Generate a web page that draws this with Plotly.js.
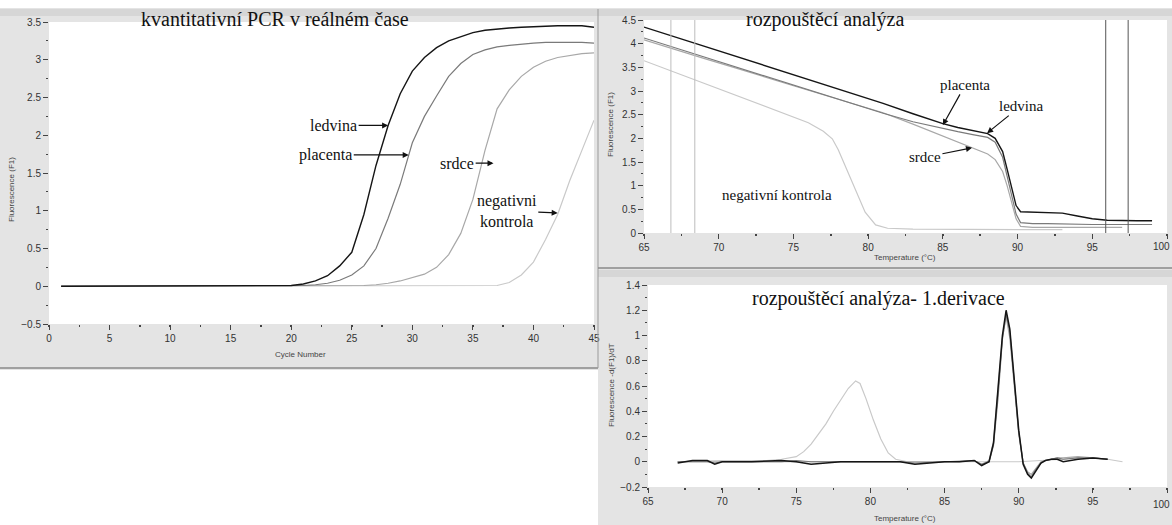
<!DOCTYPE html>
<html>
<head>
<meta charset="utf-8">
<script src="https://cdn.plot.ly/plotly-3.0.1.min.js"></script>
<style>html,body{margin:0;padding:0;background:#fff;}#chart{width:1172px;height:525px;}</style>
</head>
<body>
<div id="chart"></div>
<script>
// ---------- Panel 1: real-time PCR (fluorescence vs cycle) ----------
const cycles = [1,2,3,4,5,6,7,8,9,10,11,12,13,14,15,16,17,18,19,20,21,22,23,24,25,26,27,28,29,30,31,32,33,34,35,36,37,38,39,40,41,42,43,44,45];
const pcrLedvina  = [0,0,0,0,0,0,0,0,0,0,0,0,0,0,0,0,0,0,0,0.01,0.03,0.07,0.14,0.27,0.45,0.95,1.6,2.13,2.55,2.85,3.03,3.16,3.25,3.31,3.36,3.39,3.41,3.42,3.43,3.44,3.44,3.45,3.45,3.45,3.43];
const pcrPlacenta = [0,0,0,0,0,0,0,0,0,0,0,0,0,0,0,0,0,0,0,0,0.01,0.02,0.04,0.08,0.15,0.27,0.5,0.9,1.35,1.9,2.25,2.52,2.78,2.95,3.07,3.13,3.17,3.19,3.21,3.22,3.23,3.23,3.23,3.23,3.22];
const pcrSrdce    = [0,0,0,0,0,0,0,0,0,0,0,0,0,0,0,0,0,0,0,0,0,0,0,0,0,0.01,0.02,0.04,0.07,0.11,0.16,0.25,0.42,0.7,1.15,1.8,2.35,2.6,2.78,2.9,2.98,3.03,3.06,3.08,3.09];
const pcrNegativ  = [0,0,0,0,0,0,0,0,0,0,0,0,0,0,0,0,0,0,0,0,0,0,0,0,0,0,0,0,0,0,0,0,0,0,0,0,0.01,0.05,0.15,0.32,0.62,0.95,1.4,1.8,2.2];
const cycleTicks  = [0,5,10,15,20,25,30,35,40,45];

// ---------- Panel 2: melting curve ----------
const meltTemp       = [65,67,69,71,73,75,77,79,81,83,85,86,87,87.5,88,88.5,89,89.3,89.6,89.9,90.2,91,92,93,94,95,96,97,98,99];
const meltLedvina    = [4.35,4.15,3.94,3.74,3.54,3.34,3.14,2.94,2.74,2.52,2.31,2.23,2.16,2.13,2.10,2.00,1.72,1.35,0.95,0.58,0.45,0.44,0.43,0.42,0.36,0.30,0.27,0.26,0.26,0.26];
const meltPlacenta   = [4.12,3.92,3.72,3.52,3.32,3.12,2.93,2.73,2.53,2.35,2.20,2.14,2.08,2.05,2.02,1.92,1.60,1.20,0.80,0.40,0.22,0.20,0.20,0.19,0.19,0.18,0.18,0.18,0.18,0.18];
const meltSrdce      = [4.08,3.88,3.69,3.50,3.30,3.11,2.92,2.73,2.54,2.30,2.05,1.93,1.80,1.73,1.67,1.55,1.30,1.00,0.65,0.30,0.14,0.12,0.12,0.12,0.12,0.12,0.12,0.12,null,null];
const negMeltTemp    = [65,67,69,71,73,75,76,77,77.6,78,78.6,79.1,79.8,80.5,81.3,83,85,87,89,91,93];
const meltNegativ    = [3.64,3.40,3.16,2.93,2.69,2.45,2.33,2.15,1.99,1.76,1.32,0.95,0.44,0.17,0.10,0.08,0.08,0.08,0.08,0.07,0.07];
const cursorLight    = [66.8,68.4];
const cursorDark     = [95.9,97.4];
const tempTicks      = [65,70,75,80,85,90,95,100];
const tempTickText   = ['65','70','75','80','85','90','95',''];
const lastTempLabel  = '100';

// ---------- Panel 3: first derivative ----------
const derTemp      = [67,68,69,69.5,70,72,74,75,76,78,80,82,83,85,86,87,87.5,88,88.3,88.6,88.9,89.15,89.4,89.7,90,90.3,90.6,90.85,91.1,91.5,91.8,92.2,92.6,93,94,95,96];
const derLedvina   = [-0.01,0.01,0.01,-0.02,0,0,0.01,0,-0.02,0,0,0,-0.02,0,0,0.01,-0.03,0,0.15,0.55,1.0,1.2,1.05,0.65,0.25,-0.02,-0.1,-0.13,-0.08,-0.01,0.01,0.02,0.02,0,0.02,0.03,0.02];
const derPlacenta  = [0,0,0,-0.01,0,0,0,0.01,0,0,0,0,-0.01,0,0,0.01,-0.02,0,0.13,0.5,0.97,1.17,1.03,0.63,0.24,-0.01,-0.09,-0.12,-0.07,-0.01,0.01,0.02,0.03,0.02,0.03,0.03,0.02];
const derSrdce     = [0,0,0,0,0,0,0,0,0,0,0,0,0,0,0,0.01,-0.02,0.01,0.16,0.56,0.98,1.15,0.98,0.6,0.22,-0.01,-0.08,-0.1,-0.06,0,0.01,0.02,0.03,0.03,0.04,0.03,0.02];
const derNegTemp   = [67,70,73,74,75,75.5,76,76.5,77,77.5,78,78.5,79,79.3,79.7,80.2,80.7,81.2,81.7,82.5,85,88,90,93,94,95,96,97];
const derNegativ   = [0,0.01,0.01,0.02,0.04,0.08,0.14,0.22,0.3,0.4,0.49,0.58,0.64,0.62,0.5,0.33,0.18,0.07,0.02,0,0,0,0,0.02,0.03,0.03,0.02,0];

// ---------- colours ----------
const cLed = '#151515', cPla = '#7a7a7a', cSrd = '#a8a8a8', cNeg = '#c9c9c9';

const W = 1172, H = 525;
const px = v => v / W;
const py = v => 1 - v / H;

function line(x, y, color, xa, ya, w) {
  return {x: x, y: y, type: 'scatter', mode: 'lines', xaxis: xa, yaxis: ya,
          line: {color: color, width: w || 1.2}, hoverinfo: 'skip', connectgaps: false};
}

const traces = [
  line(cycles, pcrNegativ, cNeg, 'x', 'y'),
  line(cycles, pcrSrdce, cSrd, 'x', 'y'),
  line(cycles, pcrPlacenta, cPla, 'x', 'y'),
  line(cycles, pcrLedvina, cLed, 'x', 'y', 1.4),

  line(negMeltTemp, meltNegativ, cNeg, 'x2', 'y2'),
  line(meltTemp, meltSrdce, cSrd, 'x2', 'y2'),
  line(meltTemp, meltPlacenta, cPla, 'x2', 'y2'),
  line(meltTemp, meltLedvina, cLed, 'x2', 'y2', 1.4),

  line(derNegTemp, derNegativ, cNeg, 'x3', 'y3'),
  line(derTemp, derSrdce, cSrd, 'x3', 'y3'),
  line(derTemp, derPlacenta, cPla, 'x3', 'y3'),
  line(derTemp, derLedvina, cLed, 'x3', 'y3', 1.5)
];

const tickFont = {family: 'Liberation Sans Narrow, Arial Narrow, Liberation Sans, Arial', size: 10, color: '#333'};
function xax(domain, range, anchor, vals, text) {
  return {domain: domain, range: range, anchor: anchor, tickmode: 'array', tickvals: vals, ticktext: text,
          ticks: 'outside', ticklen: 5, tickwidth: 1, tickcolor: '#444',
          minor: {dtick: 2.5, tick0: 0, ticks: 'outside', ticklen: 2, tickwidth: 1.5, tickcolor: '#444'},
          showgrid: false, zeroline: false, showline: false, tickfont: tickFont, fixedrange: true};
}
function yax(domain, range, anchor, dtick, mdtick) {
  return {domain: domain, range: range, anchor: anchor, dtick: dtick, tick0: 0,
          ticks: 'outside', ticklen: 5, tickwidth: 1, tickcolor: '#444',
          minor: {dtick: mdtick, ticks: 'outside', ticklen: 2, tickwidth: 1, tickcolor: '#444'},
          showgrid: false, zeroline: false, showline: false, tickfont: tickFont, fixedrange: true};
}

const serif = 'Liberation Serif, Times New Roman, serif';
const lab = (text, x, y, xa, ya, size) => ({
  text: text, x: x, y: y, xref: xa, yref: ya, showarrow: false, xanchor: 'center', yanchor: 'middle',
  font: {family: serif, size: size, color: '#111'}});
const arr = (text, tipX, tipY, tailX, tailY, xa, ya, size) => ({
  text: text, x: tipX, y: tipY, ax: tailX, ay: tailY, xref: xa, yref: ya, axref: xa, ayref: ya,
  xanchor: 'center', yanchor: 'middle',
  showarrow: true, arrowhead: 2, arrowsize: 1, arrowwidth: 1.2, arrowcolor: '#111', standoff: 0,
  font: {family: serif, size: size, color: '#111'}});

const small = {family: 'Liberation Sans Narrow, Arial Narrow, Liberation Sans, Arial', size: 8, color: '#444'};
const ptxt = (text, x, y, angle) => ({text: text, x: px(x), y: py(y), xref: 'paper', yref: 'paper',
  xanchor: 'center', yanchor: 'middle', textangle: angle || 0, showarrow: false, font: small});

const annotations = [
  lab('kvantitativní PCR v reálném čase', px(275), py(19), 'paper', 'paper', 20),
  lab('rozpouštěcí analýza', px(825), py(19), 'paper', 'paper', 20),
  lab('rozpouštěcí analýza- 1.derivace', px(878), py(298), 'paper', 'paper', 20),

  arr('ledvina', 28.0, 2.13, 23.5, 2.13, 'x', 'y', 16),
  arr('placenta', 29.7, 1.74, 22.85, 1.74, 'x', 'y', 16),
  arr('srdce', 36.7, 1.63, 33.7, 1.63, 'x', 'y', 16),
  arr('negativni<br>kontrola', 42.0, 0.97, 37.8, 1.0, 'x', 'y', 16),

  arr('placenta', 85.0, 2.28, 86.5, 3.13, 'x2', 'y2', 15),
  arr('ledvina', 87.96, 2.11, 90.2, 2.68, 'x2', 'y2', 15),
  arr('srdce', 86.95, 1.8, 83.8, 1.6, 'x2', 'y2', 15),
  lab('negativní kontrola', 73.9, 0.81, 'x2', 'y2', 15),

  ptxt('Fluorescence (F1)', 11, 190, -90),
  ptxt('Cycle Number', 300, 354),
  ptxt('Fluorescence (F1)', 610, 125, -90),
  ptxt('Temperature (°C)', 905, 257),
  ptxt('Fluorescence -d(F1)/dT', 611, 385, -90),
  ptxt('Temperature (°C)', 905, 518),
  {text: lastTempLabel, x: 1, y: py(246), xref: 'paper', yref: 'paper', xanchor: 'right', yanchor: 'middle', showarrow: false, font: tickFont},
  {text: lastTempLabel, x: 1, y: py(504), xref: 'paper', yref: 'paper', xanchor: 'right', yanchor: 'middle', showarrow: false, font: tickFont}
];

const shapes = [
  {type: 'rect', xref: 'paper', yref: 'paper', x0: 0, x1: 1, y0: py(8), y1: 1, fillcolor: '#ffffff', line: {width: 0}, layer: 'below'},
  {type: 'rect', xref: 'paper', yref: 'paper', x0: 0, x1: px(598), y0: 0, y1: py(370), fillcolor: '#ffffff', line: {width: 0}, layer: 'below'},
  {type: 'rect', xref: 'paper', yref: 'paper', x0: 0, x1: px(598), y0: py(16), y1: py(9), fillcolor: '#d6d6d6', line: {width: 0}, layer: 'below'},
  {type: 'rect', xref: 'paper', yref: 'paper', x0: px(598), x1: 1, y0: py(16), y1: py(9), fillcolor: '#d6d6d6', line: {width: 0}, layer: 'below'},
  {type: 'line', xref: 'paper', yref: 'paper', x0: 0, x1: px(598), y0: py(368), y1: py(368), line: {color: '#8a8a8a', width: 1.5}},
  {type: 'line', xref: 'paper', yref: 'paper', x0: px(598), x1: px(598), y0: py(368), y1: py(9), line: {color: '#9a9a9a', width: 1}},
  {type: 'line', xref: 'paper', yref: 'paper', x0: px(598), x1: 1, y0: py(268), y1: py(268), line: {color: '#8a8a8a', width: 1.5}},
  {type: 'rect', xref: 'paper', yref: 'paper', x0: px(598), x1: 1, y0: py(277), y1: py(270), fillcolor: '#d6d6d6', line: {width: 0}, layer: 'below'}
];
cursorLight.forEach(t => shapes.push({type: 'line', xref: 'x2', yref: 'y2 domain', x0: t, x1: t, y0: 0, y1: 1, line: {color: '#bdbdbd', width: 1}}));
cursorDark.forEach(t => shapes.push({type: 'line', xref: 'x2', yref: 'y2 domain', x0: t, x1: t, y0: 0, y1: 1, line: {color: '#555', width: 1}}));

const layout = {
  width: W, height: H, margin: {l: 0, r: 0, t: 0, b: 0},
  paper_bgcolor: '#e4e4e4', plot_bgcolor: '#ffffff', showlegend: false,
  xaxis:  xax([px(49), px(594)], [0, 45], 'y', cycleTicks, cycleTicks.map(String)),
  yaxis:  yax([py(324), py(22)], [-0.5, 3.5], 'x', 0.5, 0.25),
  xaxis2: xax([px(644), px(1167)], [65, 100], 'y2', tempTicks, tempTickText),
  yaxis2: yax([py(233), py(20)], [0, 4.5], 'x2', 0.5, 0.25),
  xaxis3: xax([px(648), px(1167)], [65, 100], 'y3', tempTicks, tempTickText),
  yaxis3: yax([py(487), py(285)], [-0.2, 1.4], 'x3', 0.2, 0.1),
  annotations: annotations,
  shapes: shapes
};

Plotly.newPlot('chart', traces, layout, {displayModeBar: false, staticPlot: true});
</script>
</body>
</html>
